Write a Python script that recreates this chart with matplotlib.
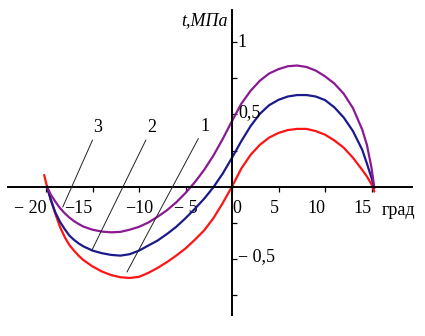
import numpy as np
import matplotlib.pyplot as plt

plt.rcParams['font.family'] = ['Liberation Serif', 'DejaVu Serif']

# angle, degrees (x) and stress t, MPa (y)
angle = [-19.9, -19.5, -19, -18.5, -18, -17.5, -17, -16.5, -16,
         -15, -14, -13, -12, -11, -10, -9, -8, -7, -6, -5, -4, -3, -2, -1,
         0, 1, 2, 3, 4, 5, 6, 7, 8, 9, 10, 11, 12, 13, 14,
         14.5, 15, 15.3]
angle_1 = [-20.2] + angle

# curve 1 (red)
tau_1 = [0.08,
         0.0, -0.09, -0.19, -0.28, -0.35, -0.405, -0.445, -0.48, -0.51,
         -0.555, -0.59, -0.615, -0.63, -0.635, -0.627, -0.60, -0.565, -0.525,
         -0.48, -0.43, -0.37, -0.305, -0.22, -0.115,
         0.0, 0.125, 0.22, 0.29, 0.34, 0.372, 0.392, 0.40, 0.40, 0.385, 0.36,
         0.32, 0.27, 0.20, 0.115,
         0.07, 0.015, -0.035]
# curve 2 (blue)
tau_2 = [0.0, -0.09, -0.18, -0.245, -0.295, -0.34, -0.37, -0.395, -0.415,
         -0.445, -0.463, -0.475, -0.48, -0.47, -0.445, -0.41, -0.375, -0.33,
         -0.28, -0.22, -0.155, -0.085, -0.005, 0.09,
         0.2, 0.315, 0.42, 0.505, 0.565, 0.602, 0.625, 0.635, 0.635, 0.625,
         0.6, 0.55, 0.48, 0.385, 0.255,
         0.16, 0.06, -0.01]
# curve 3 (purple)
tau_3 = [0.0, -0.055, -0.105, -0.15, -0.185, -0.215, -0.24, -0.26, -0.278,
         -0.30, -0.313, -0.318, -0.315, -0.30, -0.28, -0.25, -0.21, -0.165,
         -0.11, -0.045, 0.03, 0.115, 0.215, 0.33,
         0.455, 0.575, 0.665, 0.735, 0.785, 0.815, 0.835, 0.84, 0.83, 0.805,
         0.765, 0.715, 0.645, 0.545, 0.395,
         0.29, 0.13, -0.01]

xticks = [-20, -15, -10, -5, 0, 5, 10, 15]
xtick_labels = ['\u2212 20', '\u221215', '\u221210', '\u2212 5', '0', '5', '10', '15']
yticks = [-0.75, -0.5, -0.25, 0.25, 0.5, 0.75, 1]

fig = plt.figure(figsize=(4.25, 3.36), dpi=100)
ax = fig.add_axes([0, 0, 1, 1])
ax.set_xlim(-24.95, 20.75)
ax.set_ylim(-1.038, 1.295)

line_kw = dict(lw=1.6, solid_joinstyle='round', solid_capstyle='round')
ax.plot(angle_1, tau_1, color='#ff1414', **line_kw)
ax.plot(angle, tau_2, color='#1a1a8c', **line_kw)
ax.plot(angle, tau_3, color='#8a1a92', **line_kw)

# axes through the origin
for s in ['top', 'right']:
    ax.spines[s].set_visible(False)
ax.spines['left'].set_position(('data', 0))
ax.spines['bottom'].set_position(('data', 0))
ax.spines['left'].set_bounds(-0.89, 1.225)
ax.spines['bottom'].set_bounds(-24.1, 19.4)
ax.spines['left'].set_linewidth(1.4)
ax.spines['bottom'].set_linewidth(1.4)

ax.set_xticks(xticks)
ax.set_xticklabels(xtick_labels, fontsize=13)
ax.tick_params(axis='x', direction='out', length=3.5, width=0.9, pad=6)
for lab, v in zip(ax.get_xticklabels(), xticks):
    if v == 0:
        lab.set_ha('left')
    elif v == -10:
        lab.set_ha('center')
    elif v == -5:
        lab.set_ha('center')
    else:
        lab.set_ha('right')

ax.set_yticks(yticks)
ax.set_yticklabels([])
ax.tick_params(axis='y', direction='in', length=3.5, width=0.9)

ax.text(0.55, 1.0, '1', fontsize=13, ha='left', va='center')
ax.text(0.65, 0.51, '0,5', fontsize=13, ha='left', va='center')
ax.text(0.65, -0.49, '\u2212 0,5', fontsize=13, ha='left', va='center')
ax.text(16.1, -0.165, 'град', fontsize=13, ha='left', va='center')
ax.text(-0.5, 1.15, 't,МПа', fontsize=13, style='italic', ha='right', va='center')

# callout numbers
lbl_kw = dict(fontsize=13, ha='center', va='center',
              arrowprops=dict(arrowstyle='-', lw=0.7, color='#222222',
                              shrinkA=1, shrinkB=0))
ax.annotate('3', xy=(-18.2, -0.142), xytext=(-14.4, 0.41), **lbl_kw)
ax.annotate('2', xy=(-15.05, -0.44), xytext=(-8.6, 0.41), **lbl_kw)
ax.annotate('1', xy=(-11.3, -0.594), xytext=(-2.9, 0.42), **lbl_kw)

fig.savefig('out.png', dpi=100)
